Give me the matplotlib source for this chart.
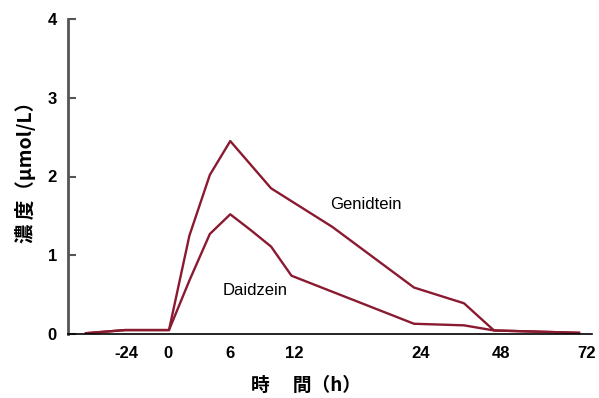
import numpy as np
import matplotlib
matplotlib.use("Agg")
import matplotlib.pyplot as plt
from matplotlib.transforms import ScaledTranslation

# data (hours, umol/L)
hours_gen = [-48, -24, 0, 2, 4, 6, 8, 10, 16, 24, 39, 48, 72]
genistein = [0.01, 0.05, 0.05, 1.25, 2.02, 2.45, 2.15, 1.85, 1.36, 0.59, 0.39, 0.045, 0.015]
hours_dai = [-48, -24, 0, 2, 4, 6, 8, 10, 12, 24, 39, 48, 72]
daidzein = [0.01, 0.05, 0.05, 0.68, 1.27, 1.52, 1.32, 1.11, 0.74, 0.13, 0.11, 0.045, 0.015]

xticks = [-24, 0, 6, 12, 24, 48, 72]
xticklabels = ["-24", "0", "6", "12", "24", "48", "72"]
yticks = [0, 1, 2, 3, 4]

# the time axis is stretched piecewise (0-24 h wide, the rest squeezed)
knot_h = np.array([-96, -48, -24, 0, 24, 48, 72, 96])
knot_p = np.array([8, 86, 125, 169, 414, 494, 579, 664])

def fwd(h):
    return np.interp(h, knot_h, knot_p)

def inv(p):
    return np.interp(p, knot_p, knot_h)

line_col = "#8a1a30"
cjk = ["Noto Sans CJK JP", "DejaVu Sans"]

W, H = 599, 398
fig = plt.figure(figsize=(W / 100, H / 100), dpi=100)
ax = fig.add_axes([68 / W, 1 - 334 / H, 524 / W, 315 / H])

ax.set_xscale("function", functions=(fwd, inv))
ax.plot(hours_gen, genistein, color=line_col, lw=1.7)
ax.plot(hours_dai, daidzein, color=line_col, lw=1.7)

ax.set_xlim(inv(68), inv(592))
ax.set_ylim(0, 4)

for s in ["top", "right"]:
    ax.spines[s].set_visible(False)
ax.spines["left"].set_color("#555555")
ax.spines["left"].set_linewidth(2)
ax.spines["bottom"].set_color("black")
ax.spines["bottom"].set_linewidth(1.2)

ax.set_yticks(yticks)
ax.set_yticklabels([str(v) for v in yticks])
ax.tick_params(axis="y", direction="in", length=6, width=1.5, color="#555555", pad=8)
ax.set_xticks(xticks)
ax.set_xticklabels(xticklabels)
ax.xaxis.set_minor_locator(matplotlib.ticker.NullLocator())
ax.tick_params(axis="x", length=0, pad=9)

for lab in ax.get_xticklabels() + ax.get_yticklabels():
    lab.set_fontfamily("Liberation Sans")
    lab.set_fontweight("bold")
    lab.set_fontsize(12)

# labels in the picture sit a little right of the data positions
shift_px = [1, -1, 0, 3, 7, 7, 8]
for lab, dx in zip(ax.get_xticklabels(), shift_px):
    lab.set_transform(lab.get_transform() + ScaledTranslation(dx / 100, 0, fig.dpi_scale_trans))

ax.text(15.8, 1.64, "Genidtein", fontfamily="Liberation Sans", fontsize=12, va="center", ha="left")
ax.text(5.3, 0.55, "Daidzein", fontfamily="Liberation Sans", fontsize=12, va="center", ha="left")

fig.text(306 / W, 1 - 385 / H, "時\u3000 間（h）", family=cjk, fontweight="bold",
         fontsize=13.5, ha="center", va="center")
fig.text(26 / W, 1 - 167 / H, "濃 度（μmol/L）", family=cjk, fontweight="bold",
         fontsize=14, rotation=90, ha="center", va="center")

fig.savefig("out.png", dpi=100)
